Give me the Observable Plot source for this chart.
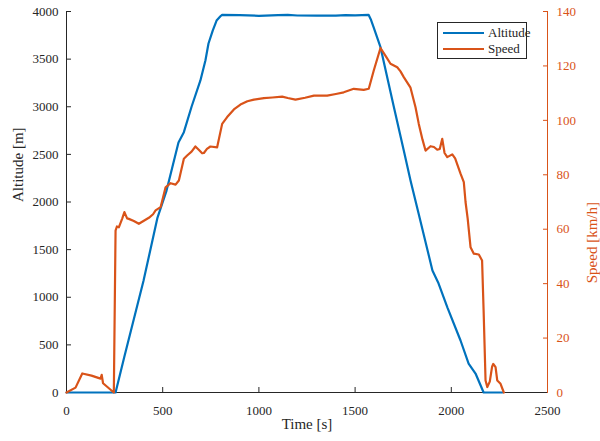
<!DOCTYPE html>
<html>
<head>
<meta charset="utf-8">
<script src="https://cdn.jsdelivr.net/npm/d3@7"></script>
<script src="https://cdn.jsdelivr.net/npm/@observablehq/plot@0.6"></script>
<style>
  html, body { margin: 0; padding: 0; background: #fff; }
  #wrap { position: relative; width: 600px; height: 441px; font-family: "Liberation Serif", "DejaVu Serif", serif; }
  #chart svg, #chart svg text, #chart svg g { font-family: "Liberation Serif", "DejaVu Serif", serif !important; font-variant: normal !important; }
  #legend { position: absolute; left: 437px; top: 22px; width: 88px; height: 35px; border: 1px solid #262626; background: #fff; box-sizing: content-box; }
  .row { position: absolute; left: 0; height: 16px; display: flex; align-items: center; font-size: 13px; color: #262626; }
  .sw { width: 41px; height: 2px; margin-left: 5px; margin-right: 4px; }
</style>
</head>
<body>
<div id="wrap">
  <div id="chart"></div>
  <div id="legend">
    <div class="row" style="top:2px"><div class="sw" style="background:#0072BD"></div><span>Altitude</span></div>
    <div class="row" style="top:18px"><div class="sw" style="background:#D95319"></div><span>Speed</span></div>
  </div>
</div>
<script>
// Altitude series [m]
const altTime = [0, 255, 300, 400, 473, 520, 582, 610, 650, 696, 722, 738, 760, 780, 800, 809, 900, 1000, 1100, 1150, 1200, 1300, 1400, 1450, 1500, 1570, 1583, 1596, 1632, 1700, 1753, 1788, 1830, 1902, 1934, 1980, 2048, 2090, 2126, 2168, 2266];
const altitude = [0, 0, 370, 1170, 1837, 2120, 2625, 2733, 3000, 3276, 3486, 3664, 3800, 3905, 3950, 3965, 3962, 3955, 3962, 3965, 3958, 3956, 3957, 3962, 3960, 3965, 3910, 3836, 3625, 3010, 2541, 2226, 1879, 1281, 1144, 892, 546, 304, 199, 0, 0];

// Speed series [km/h]
const spdTime = [0, 47, 82, 130, 177, 183, 190, 246, 255, 262, 272, 290, 301, 315, 324, 350, 376, 400, 428, 450, 463, 489, 515, 541, 567, 584, 610, 627, 650, 670, 690, 705, 714, 730, 748, 783, 809, 835, 870, 904, 940, 974, 1026, 1070, 1121, 1150, 1190, 1240, 1286, 1355, 1400, 1441, 1493, 1545, 1571, 1597, 1632, 1660, 1684, 1719, 1736, 1753, 1788, 1814, 1831, 1850, 1866, 1892, 1910, 1927, 1940, 1953, 1965, 1979, 2005, 2020, 2048, 2065, 2074, 2085, 2100, 2117, 2143, 2160, 2168, 2178, 2187, 2200, 2212, 2218, 2230, 2239, 2256, 2273];
const speed = [0, 1.8, 7.0, 6.2, 5.1, 6.5, 3.4, 0, 59.5, 61, 60.7, 64, 66.3, 64, 63.8, 63, 62, 63, 64.2, 65.5, 66.9, 68.1, 75.4, 76.9, 76.4, 77.9, 85.9, 87.1, 88.5, 90.4, 89, 87.9, 88, 89.5, 90.4, 90.1, 98.7, 101.2, 104, 105.8, 107, 107.6, 108.2, 108.4, 108.7, 108.2, 107.6, 108.3, 109.1, 109.1, 109.7, 110.3, 111.6, 111.2, 111.6, 118.3, 126.6, 123.5, 120.8, 119.5, 118, 115.9, 112, 104.8, 98.7, 93, 88.9, 90.5, 90.2, 89.2, 89.5, 93.2, 88, 86.5, 87.5, 86, 80.4, 77.3, 70, 64, 53.4, 51, 50.7, 48.5, 30, 4.4, 2, 4, 9.5, 10.5, 9.3, 4.4, 3.2, 0];

// Tick values
const timeTicks = [0, 500, 1000, 1500, 2000, 2500];
const altTicks = [0, 500, 1000, 1500, 2000, 2500, 3000, 3500, 4000];
const speedTicks = [0, 20, 40, 60, 80, 100, 120, 140];

const altMax = 4000, speedMax = 140;
const k = altMax / speedMax; // maps speed onto altitude scale

const altData = altTime.map((t, i) => ({t, v: altitude[i]}));
const spdData = spdTime.map((t, i) => ({t, v: speed[i] * k}));

const ink = "#262626", orange = "#D95319", blue = "#0072BD";
const serif = "Liberation Serif";
const fmt = d => String(d);

const chart = Plot.plot({
  width: 600, height: 441,
  marginLeft: 66, marginRight: 53, marginTop: 11, marginBottom: 49,
  style: {fontFamily: serif, fontSize: "13px", color: ink, background: "#fff"},
  x: {domain: [0, 2500]},
  y: {domain: [0, altMax]},
  marks: [
    Plot.axisX(timeTicks, {anchor: "bottom", tickSize: -5, tickPadding: 18, stroke: ink, fill: ink, label: null, tickFormat: fmt, fontFamily: serif, fontSize: 13, fontVariant: "normal"}),
    Plot.axisY(altTicks, {anchor: "left", tickSize: -5, tickPadding: 13, stroke: ink, fill: ink, label: null, tickFormat: fmt, fontFamily: serif, fontSize: 13, fontVariant: "normal"}),
    Plot.axisY(speedTicks.map(s => s * k), {anchor: "right", tickSize: -5, tickPadding: 14, stroke: orange, fill: orange, label: null, tickFormat: d => String(Math.round(d / k)), fontFamily: serif, fontSize: 13, fontVariant: "normal"}),
    Plot.ruleX([0], {stroke: ink}),
    Plot.ruleY([0], {stroke: ink}),
    Plot.ruleX([2500], {stroke: orange}),
    Plot.line(altData, {x: "t", y: "v", stroke: blue, strokeWidth: 2.2}),
    Plot.line(spdData, {x: "t", y: "v", stroke: orange, strokeWidth: 2.2}),
    Plot.text(["Time [s]"], {frameAnchor: "bottom", dy: 36, fontSize: 15, fill: ink, fontFamily: serif}),
    Plot.text(["Altitude [m]"], {frameAnchor: "left", dx: -48, rotate: -90, fontSize: 15, fill: ink, fontFamily: serif}),
    Plot.text(["Speed [km/h]"], {frameAnchor: "right", dx: 45, rotate: -90, fontSize: 15, fill: orange, fontFamily: serif})
  ]
});
document.getElementById("chart").appendChild(chart);
</script>
</body>
</html>
